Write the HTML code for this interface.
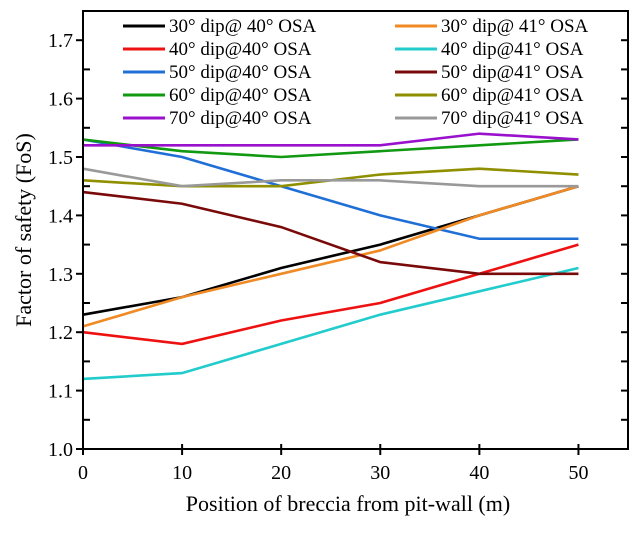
<!DOCTYPE html>
<html><head><meta charset="utf-8"><style>
body{margin:0;background:#fff;}
svg text{font-family:"Liberation Serif",serif;fill:#000;}
</style></head><body>
<svg id="c" width="638" height="530"></svg>
<script>
const xs=[0,10,20,30,40,50];
const names=["30° dip@ 40° OSA","40° dip@40° OSA","50° dip@40° OSA","60° dip@40° OSA","70° dip@40° OSA","30° dip@ 41° OSA","40° dip@41° OSA","50° dip@41° OSA","60° dip@41° OSA","70° dip@41° OSA"];
const colors=["#000000","#ee1111","#1f6fd6","#119911","#9911cc","#f08a24","#22cccc","#7a0a0a","#8f8f00","#999999"];
const s1=[1.23,1.26,1.31,1.35,1.40,1.45];
const s2=[1.20,1.18,1.22,1.25,1.30,1.35];
const s3=[1.53,1.50,1.45,1.40,1.36,1.36];
const s4=[1.53,1.51,1.50,1.51,1.52,1.53];
const s5=[1.52,1.52,1.52,1.52,1.54,1.53];
const s6=[1.21,1.26,1.30,1.34,1.40,1.45];
const s7=[1.12,1.13,1.18,1.23,1.27,1.31];
const s8=[1.44,1.42,1.38,1.32,1.30,1.30];
const s9=[1.46,1.45,1.45,1.47,1.48,1.47];
const s10=[1.48,1.45,1.46,1.46,1.45,1.45];
const series=[s1,s2,s3,s4,s5,s6,s7,s8,s9,s10];
const yTicks=["1.0","1.1","1.2","1.3","1.4","1.5","1.6","1.7"];
const xTicks=["0","10","20","30","40","50"];
const L=83,R=628,T=11,B=449;
const X=v=>L+(v-0)/55*(R-L);
const Y=v=>B-(v-1.0)/0.75*(B-T);
const svg=document.getElementById('c');
const NS="http://www.w3.org/2000/svg";
function mk(t,a,p){const e=document.createElementNS(NS,t);for(const k in a)e.setAttribute(k,a[k]);(p||svg).appendChild(e);return e;}
series.forEach((s,i)=>{
 const p=mk('polyline',{points:s.map((v,j)=>X(xs[j])+','+Y(v)).join(' '),fill:'none',stroke:colors[i],'stroke-width':2.6});
 
 
});
const f=mk('rect',{x:L,y:T,width:R-L,height:B-T,fill:'none',stroke:'#000','stroke-width':2});


for(let k=0;k<=15;k++){const v=1+k*0.05,y=Y(v),maj=k%2==0;
 mk('line',{x1:L-(maj?7:0),x2:L+(maj?0:7),y1:y,y2:y,stroke:'#000','stroke-width':2});
 mk('line',{x1:R,x2:R-7,y1:y,y2:y,stroke:'#000','stroke-width':2});}
yTicks.forEach(t=>{const e=mk('text',{x:L-10,y:Y(+t)+7,'text-anchor':'end','font-size':20});e.textContent=t;
 
 });
for(let k=0;k<=11;k++){const v=k*5,x=X(v),maj=k%2==0;
 if(maj) mk('line',{x1:x,x2:x,y1:B-5,y2:B+6,stroke:'#000','stroke-width':2});}
xTicks.forEach(t=>{const e=mk('text',{x:X(+t),y:B+30,'text-anchor':'middle','font-size':20});e.textContent=t;
 
 });
let e=mk('text',{x:348,y:B+62,'text-anchor':'middle','font-size':22});e.textContent='Position of breccia from pit-wall (m)';


e=mk('text',{x:0,y:0,'text-anchor':'middle','font-size':22,transform:'translate(31,'+((T+B)/2)+') rotate(-90)'});e.textContent='Factor of safety (FoS)';


names.forEach((n,i)=>{const col=Math.floor(i/5),r=i%5;
 const lx=col?395:123,ly=26+r*23;
 const g=mk('g',{});
 
 
 mk('line',{x1:lx,x2:lx+42,y1:ly,y2:ly,stroke:colors[i],'stroke-width':3},g);
 const t=mk('text',{x:lx+46,y:ly+6,'font-size':19},g);t.textContent=n;});
</script>
</body></html>
